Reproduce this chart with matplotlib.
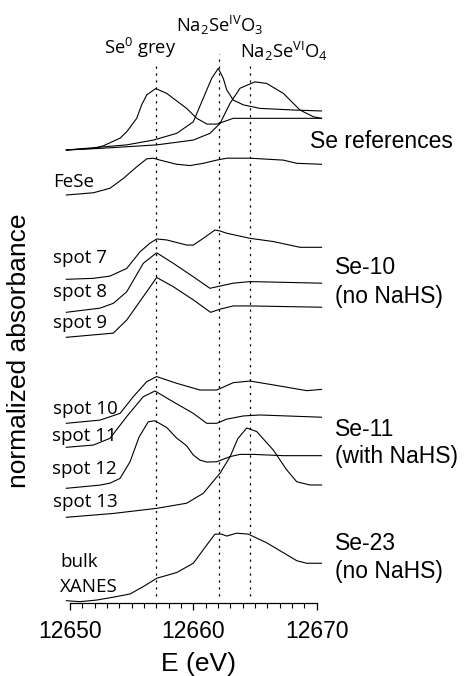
import matplotlib
matplotlib.use("Agg")
import matplotlib.pyplot as plt
from matplotlib.ticker import FixedLocator

# ---------------- data: Se K-edge XANES (normalized absorbance) ----------------
se0_e = [12649.7, 12651.9, 12652.7, 12654.06, 12654.6, 12655.41, 12655.81, 12656.22,
         12656.95, 12657.84, 12659.46, 12660.28, 12661.11, 12661.92, 12662.43, 12663.24, 12670.4]
se0_a = [0.00, 0.05, 0.13, 0.37, 0.57, 0.99, 1.41, 1.72,
         1.92, 1.77, 1.30, 0.99, 0.81, 0.81, 0.88, 0.99, 0.99]

se4_e = [12649.7, 12654.6, 12656.76, 12658.65, 12660.0, 12660.81, 12661.49, 12662.03,
         12662.43, 12662.71, 12663.24, 12664.06, 12665.41, 12668.11, 12670.4]
se4_a = [0.00, 0.16, 0.31, 0.52, 0.88, 1.62, 2.24, 2.55,
         2.24, 1.88, 1.56, 1.41, 1.30, 1.25, 1.22]

se6_e = [12649.7, 12652.43, 12657.03, 12660.0, 12661.35, 12662.17, 12662.98, 12663.79,
         12665.0, 12665.95, 12667.3, 12668.65, 12669.73, 12670.4]
se6_a = [0.00, 0.05, 0.16, 0.31, 0.52, 0.83, 1.46, 1.93,
         2.13, 2.08, 1.77, 1.25, 1.04, 0.99]

fese_e = [12649.7, 12651.9, 12653.24, 12654.33, 12655.41, 12656.22, 12656.76, 12657.3,
          12658.65, 12659.73, 12660.81, 12661.9, 12662.71, 12664.6, 12667.3, 12668.39, 12670.4]
fese_a = [0.00, 0.07, 0.21, 0.52, 0.88, 1.13, 1.15, 1.09,
          0.96, 0.92, 0.99, 1.09, 1.15, 1.15, 1.09, 0.99, 0.96]

spot7_e = [12649.7, 12651.9, 12653.24, 12654.6, 12655.68, 12656.49, 12657.03, 12657.84, 12659.46,
           12660.0, 12660.81, 12661.76, 12662.17, 12662.71, 12664.6, 12666.49, 12668.65, 12670.4]
spot7_a = [0.00, 0.03, 0.10, 0.34, 0.86, 1.13, 1.26, 1.23, 1.07,
           1.07, 1.28, 1.54, 1.51, 1.44, 1.28, 1.18, 1.00, 1.00]

spot8_e = [12649.7, 12652.43, 12653.51, 12654.6, 12655.94, 12657.03, 12658.38, 12660.0,
           12661.35, 12662.17, 12663.24, 12664.6, 12670.4]
spot8_a = [0.00, 0.13, 0.28, 0.64, 1.53, 1.86, 1.53, 1.11,
           0.75, 0.82, 0.91, 0.96, 0.91]

spot9_e = [12649.7, 12653.51, 12654.6, 12655.94, 12657.03, 12658.38, 12660.0, 12661.4,
           12662.17, 12663.24, 12664.6, 12670.4]
spot9_a = [0.00, 0.13, 0.54, 1.27, 1.87, 1.58, 1.17, 0.78,
           0.88, 0.98, 0.98, 0.94]

spot10_e = [12649.7, 12652.43, 12654.06, 12655.13, 12656.22, 12657.03, 12658.65, 12660.54,
            12661.9, 12662.43, 12663.24, 12664.6, 12666.49, 12669.2, 12670.4]
spot10_a = [0.00, 0.10, 0.31, 0.83, 1.30, 1.46, 1.25, 1.04,
            1.04, 1.13, 1.27, 1.32, 1.20, 1.02, 1.06]

spot11_e = [12649.7, 12651.9, 12653.24, 12654.6, 12655.94, 12656.89, 12658.11, 12660.0,
            12661.09, 12661.9, 12662.71, 12664.06, 12665.41, 12670.4]
spot11_a = [0.00, 0.07, 0.28, 0.96, 1.58, 1.76, 1.48, 1.06,
            0.75, 0.75, 0.88, 0.98, 1.01, 0.94]

spot12_e = [12649.7, 12652.43, 12653.24, 12654.06, 12654.87, 12655.6, 12656.35, 12656.89,
            12657.84, 12658.65, 12659.46, 12660.0, 12660.54, 12661.09, 12661.9, 12662.98,
            12663.79, 12664.87, 12667.3, 12670.4]
spot12_a = [0.00, 0.10, 0.16, 0.31, 0.83, 1.60, 2.08, 2.11,
            1.90, 1.57, 1.33, 1.04, 0.88, 0.82, 0.83, 0.99,
            1.06, 1.06, 1.02, 1.02]

spot13_e = [12649.7, 12653.5, 12657.03, 12659.46, 12660.81, 12662.17, 12662.98, 12663.6,
            12664.33, 12665.14, 12666.49, 12667.58, 12668.39, 12669.46, 12670.4]
spot13_a = [0.00, 0.12, 0.28, 0.44, 0.75, 1.38, 1.89, 2.45,
            2.79, 2.68, 2.10, 1.48, 1.11, 1.01, 1.01]

bulk_e = [12649.7, 12650.8, 12652.16, 12653.51, 12654.87, 12655.94, 12657.03, 12658.65,
          12660.0, 12661.09, 12661.76, 12662.3, 12662.71, 12663.52, 12664.46, 12665.95,
          12667.3, 12668.39, 12669.2, 12670.4]
bulk_a = [0.00, -0.03, 0.02, 0.11, 0.21, 0.44, 0.70, 0.88,
          1.17, 1.74, 2.08, 2.08, 2.02, 2.11, 2.08, 1.81,
          1.50, 1.25, 1.17, 1.17]

# reference edge positions (eV): Se0 grey, Na2SeO3, Na2SeO4
edge_e = [12657.0, 12662.05, 12664.6]

x_ticks = [12650, 12660, 12670]
x_tick_labels = ["12650", "12660", "12670"]

# ---------------- figure ----------------
W, H = 465, 676
plt.rcParams["font.family"] = ["Liberation Sans", "DejaVu Sans"]
plt.rcParams["mathtext.fontset"] = "custom"
plt.rcParams["mathtext.rm"] = "Open Sans"
plt.rcParams["mathtext.it"] = "Open Sans:italic"
plt.rcParams["mathtext.bf"] = "Open Sans:bold"
plt.rcParams["lines.scale_dashes"] = False

fig = plt.figure(figsize=(W / 100, H / 100), dpi=100)
PX = 32.0            # pixels per absorbance unit
AX_BOT, AX_TOP = 603.3, 20.0
ax = fig.add_axes([58 / W, (H - AX_BOT) / H, (330 - 58) / W, (AX_BOT - AX_TOP) / H])
ax.set_xlim(12650 + (58 - 70) / 12.33, 12650 + (330 - 70) / 12.33)
ax.set_ylim(0, (AX_BOT - AX_TOP) / PX)

def off(py):
    return (AX_BOT - py) / PX

spectra = [
    (se0_e, se0_a, off(150)),
    (se4_e, se4_a, off(150)),
    (se6_e, se6_a, off(150)),
    (fese_e, fese_a, off(195)),
    (spot7_e, spot7_a, off(279.3)),
    (spot8_e, spot8_a, off(312.3)),
    (spot9_e, spot9_a, off(337.3)),
    (spot10_e, spot10_a, off(423.3)),
    (spot11_e, spot11_a, off(447.3)),
    (spot12_e, spot12_a, off(488.3)),
    (spot13_e, spot13_a, off(517.3)),
    (bulk_e, bulk_a, off(600.7)),
]
for e, a, o in spectra:
    ax.plot(e, [o + v for v in a], color="black", lw=0.8, solid_joinstyle="round")

# dotted reference-edge guides
for e0, top in zip(edge_e, [66, 54, 66]):
    ax.plot([e0, e0], [off(596), off(top)], color="black", lw=0.9,
            linestyle=(0, (1.6, 3.4)), clip_on=False)

# axes styling
for s in ["left", "right", "top"]:
    ax.spines[s].set_visible(False)
ax.spines["bottom"].set_bounds(12650, 12670)
ax.spines["bottom"].set_linewidth(0.9)
ax.set_yticks([])
ax.set_xticks(x_ticks)
ax.set_xticklabels(x_tick_labels)
ax.xaxis.set_minor_locator(FixedLocator(list(range(12650, 12671))))
ax.tick_params(axis="x", which="major", direction="out", length=5, width=0.9,
               pad=7, labelsize=16.5)
ax.tick_params(axis="x", which="minor", direction="out", length=3.5, width=0.8)
ax.patch.set_alpha(0)

def put(x, y, s, **kw):
    fig.text(x / W, 1 - y / H, s, va="baseline", **kw)

# reference compound labels
myr = dict(family=["Open Sans", "DejaVu Sans"], fontsize=13.2)
put(104, 54, r"Se$^{\mathrm{0}}$ grey", **myr)
put(176, 31.7, r"Na$_{\mathrm{2}}$Se$^{\mathrm{IV}}$O$_{\mathrm{3}}$", **myr)
put(240, 58.3, r"Na$_{\mathrm{2}}$Se$^{\mathrm{VI}}$O$_{\mathrm{4}}$", **myr)

# spectrum labels
sp = dict(family=["Open Sans", "DejaVu Sans"], fontsize=13.5)
for txt, x, y in [("FeSe", 53, 186.7), ("spot 7", 53, 262.7), ("spot 8", 53, 296.7),
                  ("spot 9", 53, 328.3), ("spot 10", 53, 414), ("spot 11", 52, 440.7),
                  ("spot 12", 52, 474), ("spot 13", 53, 507.3), ("bulk", 60, 566.7),
                  ("XANES", 60, 591.7)]:
    put(x, y, txt, **sp)

# sample group labels
grp = dict(fontsize=16.5)
put(310, 148.3, "Se references", **grp)
put(335, 274, "Se-10", **grp)
put(335, 303, "(no NaHS)", **grp)
put(335, 436, "Se-11", **grp)
put(335, 463, "(with NaHS)", **grp)
put(335, 550, "Se-23", **grp)
put(335, 578, "(no NaHS)", **grp)

# axis titles
put(198.3, 670.7, "E (eV)", fontsize=19, ha="center")
fig.text(19 / W, 1 - 350.5 / H, "normalized absorbance", fontsize=19,
         rotation=90, ha="center", va="center")

fig.savefig("out.png", dpi=100)
